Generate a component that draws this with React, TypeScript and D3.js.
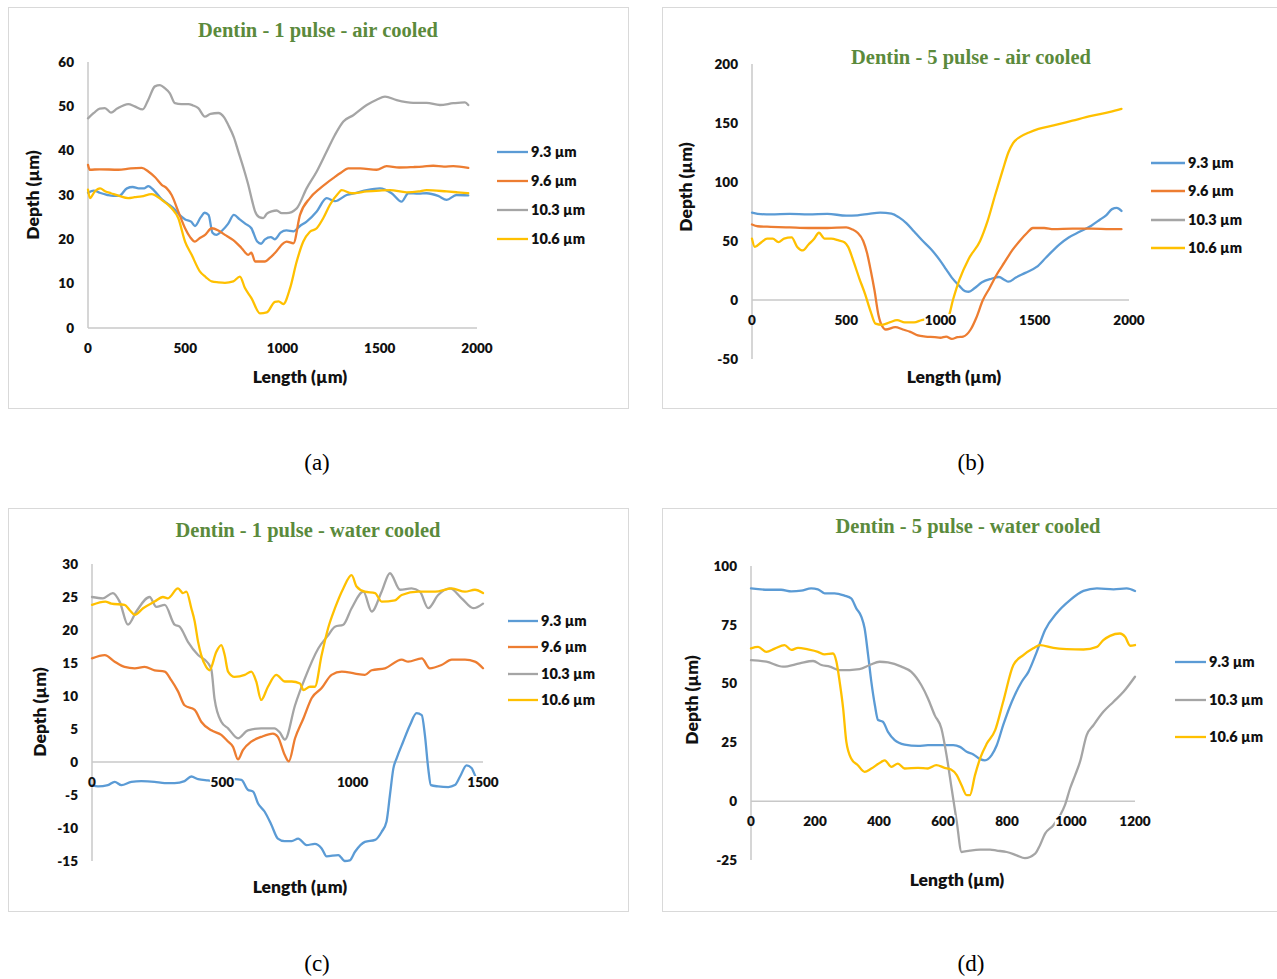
import React from 'react';
import * as d3 from 'd3';

type Pt = [number, number];

// ---------- labels ----------
const legendNames = ['9.3 µm', '9.6 µm', '10.3 µm', '10.6 µm'];
const legendNamesD = ['9.3 µm', '10.3 µm', '10.6 µm'];
const colorBlue = '#5b9bd5';
const colorOrange = '#ed7d31';
const colorGray = '#a5a5a5';
const colorYellow = '#ffc000';

const titleA = 'Dentin - 1 pulse - air cooled';
const titleB = 'Dentin - 5 pulse - air cooled';
const titleC = 'Dentin - 1 pulse - water cooled';
const titleD = 'Dentin - 5 pulse - water cooled';
const xTitle = 'Length (µm)';
const yTitle = 'Depth (µm)';

// ---------- ticks ----------
const ticksAx = [0, 500, 1000, 1500, 2000];
const ticksAy = [0, 10, 20, 30, 40, 50, 60];
const ticksBx = [0, 500, 1000, 1500, 2000];
const ticksBy = [-50, 0, 50, 100, 150, 200];
const ticksCx = [0, 500, 1000, 1500];
const ticksCy = [-15, -10, -5, 0, 5, 10, 15, 20, 25, 30];
const ticksDx = [0, 200, 400, 600, 800, 1000, 1200];
const ticksDy = [-25, 0, 25, 50, 75, 100];

// ---------- (a) 1 pulse air cooled ----------
const a93: Pt[] = [[0,30.5],[30,31],[60,30.5],[100,30],[130,29.8],[160,29.8],[200,31.5],[230,31.8],[260,31.5],[290,31.5],[310,32],[340,31],[380,29],[410,28],[440,27],[470,25.5],[500,24.5],[530,24],[550,23],[580,25],[600,26],[620,25.5],[640,21.5],[660,21],[690,22],[720,23.5],[750,25.5],[780,24.5],[810,23.5],[840,22.5],[870,19.5],[890,19],[910,20],[940,20.5],[960,20],[990,21.5],[1020,22],[1056,21.8],[1090,23],[1124,24],[1176,26.3],[1227,29.3],[1270,28.6],[1330,30],[1380,30.5],[1433,31.1],[1501,31.5],[1561,30.4],[1612,28.5],[1647,30.4],[1700,30.3],[1741,30.4],[1800,29.8],[1844,28.9],[1895,30],[1955,29.9]];
const a96: Pt[] = [[0,36.8],[9,35.7],[60,35.8],[156,35.7],[220,36],[276,36.1],[310,35.3],[345,34],[379,32.3],[405,31.5],[430,30],[464,26.3],[499,22.5],[525,20.5],[550,19.5],[575,20.3],[602,21],[636,22.5],[670,22],[704,21],[730,20.3],[756,19.5],[790,18],[824,16.5],[840,17],[859,15],[910,15],[935,15.8],[961,16.9],[1004,19.1],[1021,19.5],[1056,19.1],[1090,25.5],[1141,29.3],[1193,31.5],[1230,32.8],[1261,33.8],[1300,35],[1338,36],[1400,36],[1484,35.7],[1535,36.5],[1600,36.2],[1672,36.3],[1720,36.4],[1775,36.6],[1830,36.4],[1878,36.5],[1955,36.1]];
const a103: Pt[] = [[0,47.3],[30,48.5],[60,49.5],[87,49.6],[118,48.6],[150,49.5],[207,50.5],[240,50],[281,49.3],[310,51.5],[344,54.5],[370,54.8],[395,54.1],[420,53],[447,50.7],[480,50.5],[516,50.5],[540,50.2],[567,49.6],[601,47.7],[630,48.3],[670,48.5],[700,47.5],[721,45.8],[750,43],[773,39.8],[800,36],[824,32.3],[845,28.5],[859,26.3],[880,25],[901,24.8],[920,25.8],[944,26.3],[970,26.5],[996,25.9],[1021,25.9],[1073,27],[1124,31.5],[1176,35.3],[1227,39.8],[1270,43.6],[1313,46.6],[1364,48],[1433,50.3],[1484,51.5],[1527,52.2],[1587,51.4],[1672,50.8],[1741,50.8],[1809,50.3],[1878,50.7],[1938,50.9],[1955,50.3]];
const a106: Pt[] = [[0,31.2],[10,29.3],[35,30.8],[62,31.5],[90,30.8],[118,30.4],[160,29.8],[207,29.3],[240,29.5],[276,29.7],[327,30.2],[379,28.9],[430,27],[464,24.8],[499,19.5],[533,16.5],[576,12.7],[605,11.5],[636,10.5],[670,10.3],[704,10.2],[747,10.5],[781,11.6],[807,9],[841,6.7],[884,3.3],[919,3.5],[961,5.9],[980,6],[1004,5.4],[1039,9],[1073,15],[1107,19.5],[1141,21.7],[1176,22.5],[1210,24.8],[1244,27.8],[1287,30.4],[1304,31.1],[1356,30.4],[1433,30.8],[1500,31],[1553,31.1],[1638,30.6],[1700,30.8],[1741,31.1],[1844,30.8],[1900,30.6],[1955,30.4]];

// ---------- (b) 5 pulse air cooled ----------
const b93: Pt[] = [[0,74],[30,73],[100,72.5],[200,73],[300,72.5],[400,73],[500,71.5],[560,71.8],[620,73],[680,74],[740,73.2],[780,70],[820,65],[860,58],[900,51],[950,43],[1000,33],[1030,26],[1060,19],[1100,12],[1130,7.5],[1150,7],[1180,10],[1220,15],[1270,18],[1310,19.5],[1340,17],[1360,15.5],[1400,19],[1450,23],[1510,28],[1560,36],[1630,47],[1680,53],[1740,58],[1800,63],[1845,68],[1880,72],[1910,77],[1935,78],[1960,75.5]];
const b96: Pt[] = [[0,64],[30,62.5],[100,62],[200,61.5],[300,61],[400,61],[500,61.5],[530,60],[560,57],[590,50],[610,40],[630,25],[650,8],[670,-12],[690,-22],[710,-25],[760,-23],[800,-25],[840,-27],[880,-30],[920,-31],[970,-31.5],[1000,-32],[1030,-31],[1060,-33],[1090,-31.5],[1120,-31],[1160,-25],[1190,-15],[1225,0],[1260,10],[1300,22],[1340,32],[1380,42],[1420,50],[1460,57],[1490,61],[1550,61],[1600,60],[1700,60.5],[1800,60.5],[1900,60],[1960,60]];
const b103: Pt[] = [];
const b106: Pt[] = [[0,52],[15,45],[50,49],[80,52],[110,52],[140,49],[170,52],[210,53],[240,45],[270,42],[300,47],[330,52],[355,57],[385,52],[420,52],[460,50.5],[490,49],[510,45],[540,32],[570,18],[600,5],[630,-10],[655,-20],[690,-21],[730,-19],[770,-17],[810,-19],[860,-19],[900,-17],[940,-16],[980,-18],[1020,-17],[1040,-15],[1066,0],[1100,17],[1150,35],[1210,50],[1250,67],[1290,89],[1330,110],[1360,125],[1385,133],[1420,138],[1470,142],[1520,145],[1600,148],[1700,152],[1800,156],[1900,159.5],[1960,162]];

// ---------- (c) 1 pulse water cooled ----------
const c93: Pt[] = [[0,-3.5],[23,-3.7],[61,-3.5],[87,-3],[113,-3.5],[151,-3],[189,-2.9],[240,-3],[279,-3.2],[317,-3.2],[355,-2.9],[381,-2.2],[407,-2.6],[445,-2.8],[496,-3],[547,-2.6],[573,-2.7],[598,-4.2],[618,-4.5],[637,-6.3],[662,-7.5],[688,-9.5],[713,-11.6],[739,-12],[766,-12],[791,-11.6],[823,-12.6],[855,-12.4],[881,-13.1],[900,-14.3],[945,-14.1],[970,-15],[989,-14.9],[1009,-13.6],[1047,-12.1],[1086,-11.8],[1111,-10.6],[1130,-9],[1143,-5],[1156,-1],[1169,0.6],[1194,3.1],[1220,5.6],[1245,7.4],[1265,7.1],[1277,4.1],[1290,-1],[1300,-3.5],[1328,-3.7],[1367,-3.8],[1392,-3.5],[1412,-2.2],[1437,-0.5],[1456,-0.9],[1475,-2.5],[1490,-3]];
const c96: Pt[] = [[0,15.7],[49,16.2],[87,15.2],[125,14.4],[164,14.2],[202,14.4],[240,13.9],[279,13.7],[304,12.4],[330,10.7],[355,8.6],[394,7.9],[419,6.1],[458,4.8],[496,4.1],[522,3.1],[541,2.3],[560,0.4],[579,1.8],[611,3.1],[649,3.8],[694,4.3],[713,3.8],[739,1.1],[755,0.1],[779,3.6],[811,6.6],[843,9.7],[881,11.2],[919,13.2],[958,13.7],[1009,13.4],[1047,13.2],[1073,13.9],[1124,14.2],[1188,15.5],[1213,15.2],[1265,15.7],[1296,14.2],[1341,14.7],[1380,15.5],[1431,15.5],[1469,15.2],[1500,14.2]];
const c103: Pt[] = [[0,25],[42,24.8],[80,25.6],[106,24.3],[138,20.8],[170,22.8],[221,25],[247,23.5],[279,23.8],[317,20.8],[336,20.5],[368,18.2],[407,16.2],[445,15],[458,14],[470,9.6],[496,6.1],[522,5.1],[560,3.6],[598,4.8],[649,5.1],[700,5.1],[720,4.5],[740,3.4],[779,8.6],[817,12.7],[868,17.2],[906,19.2],[932,20.5],[964,20.8],[996,23.3],[1041,25.8],[1073,22.8],[1111,25.8],[1143,28.6],[1182,26.1],[1226,26.3],[1258,25.8],[1290,23.3],[1328,25.3],[1373,26.3],[1418,24.8],[1463,23.3],[1500,24]];
const c106: Pt[] = [[0,23.8],[51,24.3],[74,24],[125,23.8],[145,23],[164,22.3],[196,23.3],[240,24.3],[272,25],[291,24.8],[330,26.3],[349,25.6],[362,25.8],[381,23.3],[394,21.3],[407,18.2],[419,16.2],[438,14.4],[451,13.9],[477,16.7],[496,17.7],[509,16.2],[522,13.7],[547,12.9],[586,13.2],[611,13.7],[630,12.2],[649,9.4],[675,11.4],[707,13.2],[740,12.2],[766,12.2],[798,11.9],[811,10.9],[836,11.4],[855,11.4],[881,16.2],[906,20.3],[932,23.3],[964,26.3],[996,28.3],[1015,26.6],[1047,25.8],[1086,25.6],[1111,24.3],[1162,24.5],[1188,25.3],[1252,25.8],[1316,25.8],[1380,26.3],[1431,25.8],[1469,26.1],[1500,25.6]];

// ---------- (d) 5 pulse water cooled ----------
const d93: Pt[] = [[0,90.5],[53,89.9],[94,89.9],[126,89.2],[157,89.5],[188,90.5],[209,90.1],[230,88.4],[261,88.4],[292,87.4],[313,86.2],[329,82],[345,78.4],[355,73.5],[366,62.1],[376,50.8],[387,40.9],[397,34.5],[412,33.8],[428,29.5],[449,26],[480,24.1],[522,23.5],[553,23.8],[591,23.8],[632,23.8],[653,23.1],[674,21],[695,19.9],[716,17.9],[731,17.4],[752,19.6],[768,23.8],[788,32.3],[815,42.3],[846,50.8],[867,55],[893,63.5],[919,72.8],[955,79.9],[997,85.5],[1039,89.4],[1081,90.5],[1133,90.1],[1174,90.5],[1200,89.4]];
const d103: Pt[] = [[0,60],[48,59.3],[100,57.2],[152,58.6],[194,59.6],[220,57.9],[246,57.2],[277,55.7],[339,56.2],[371,57.9],[402,59.3],[428,59],[470,57.2],[501,55],[532,49.4],[553,43.7],[574,36.6],[595,30.9],[611,19.6],[627,5.4],[643,-8.8],[658,-21.6],[684,-21],[716,-20.6],[747,-20.6],[768,-21],[799,-21.6],[830,-23],[856,-24.2],[888,-22.3],[903,-18.7],[919,-13.8],[945,-10.2],[966,-6],[981,-1.7],[997,5.4],[1013,11.1],[1028,16.7],[1049,28.1],[1070,32.3],[1101,38],[1133,42.3],[1164,46.5],[1200,52.9]];
const d106: Pt[] = [[0,65],[22,65.6],[48,63.5],[74,64.9],[105,66.4],[126,64.3],[147,65.2],[178,64.5],[209,63.5],[230,62.4],[256,62.8],[267,59.3],[277,50.8],[288,39.4],[298,25.2],[313,18.2],[334,15.3],[355,12.5],[376,13.9],[407,16.7],[418,17.4],[439,14.6],[459,16],[480,13.9],[522,14.2],[553,13.9],[579,15.3],[605,14.2],[625,13.5],[643,11.1],[658,6.8],[674,2.6],[684,2.6],[700,11.1],[716,18.2],[737,24.5],[763,30.2],[788,42.3],[820,57.9],[851,62.1],[882,65],[903,66.4],[945,65.2],[986,64.7],[1039,64.5],[1081,65.6],[1101,68.5],[1122,70.3],[1153,71.3],[1169,69.9],[1185,66.1],[1200,66.4]];

interface Series { name: string; color: string; data: Pt[]; }
interface PanelSpec {
  box: [number, number, number, number];
  title: string; titlePos: [number, number];
  xDomain: [number, number]; xRange: [number, number];
  yDomain: [number, number]; yRange: [number, number];
  xTicks: number[]; yTicks: number[];
  series: Series[];
  legend: { names: string[]; colors: string[]; x0: number; x1: number; tx: number; ys: number[] };
  yTitlePos: [number, number]; xTitlePos: [number, number];
  caption: string; captionPos: [number, number];
}

const FONT = 'Lato, "Liberation Sans", Arial, sans-serif';
const SERIF = '"Liberation Serif", "Times New Roman", serif';

const panels: PanelSpec[] = [
  {
    box: [8, 7, 620, 401], title: titleA, titlePos: [318, 37],
    xDomain: [0, 2000], xRange: [88, 477], yDomain: [0, 60], yRange: [328, 62],
    xTicks: ticksAx, yTicks: ticksAy,
    series: [
      { name: legendNames[0], color: colorBlue, data: a93 },
      { name: legendNames[1], color: colorOrange, data: a96 },
      { name: legendNames[2], color: colorGray, data: a103 },
      { name: legendNames[3], color: colorYellow, data: a106 },
    ],
    legend: { names: legendNames, colors: [colorBlue, colorOrange, colorGray, colorYellow], x0: 497, x1: 528, tx: 531, ys: [152, 181, 210, 239] },
    yTitlePos: [33, 195], xTitlePos: [300, 377], caption: '(a)', captionPos: [317, 462],
  },
  {
    box: [662, 7, 625, 401], title: titleB, titlePos: [971, 64],
    xDomain: [0, 2000], xRange: [752, 1129], yDomain: [-50, 200], yRange: [359, 64],
    xTicks: ticksBx, yTicks: ticksBy,
    series: [
      { name: legendNames[0], color: colorBlue, data: b93 },
      { name: legendNames[1], color: colorOrange, data: b96 },
      { name: legendNames[2], color: colorGray, data: b103 },
      { name: legendNames[3], color: colorYellow, data: b106 },
    ],
    legend: { names: legendNames, colors: [colorBlue, colorOrange, colorGray, colorYellow], x0: 1151, x1: 1185, tx: 1188, ys: [163, 191, 220, 248] },
    yTitlePos: [686, 187], xTitlePos: [954, 377], caption: '(b)', captionPos: [971, 462],
  },
  {
    box: [8, 508, 620, 403], title: titleC, titlePos: [308, 537],
    xDomain: [0, 1500], xRange: [92, 483], yDomain: [-15, 30], yRange: [861, 564],
    xTicks: ticksCx, yTicks: ticksCy,
    series: [
      { name: legendNames[0], color: colorBlue, data: c93 },
      { name: legendNames[1], color: colorOrange, data: c96 },
      { name: legendNames[2], color: colorGray, data: c103 },
      { name: legendNames[3], color: colorYellow, data: c106 },
    ],
    legend: { names: legendNames, colors: [colorBlue, colorOrange, colorGray, colorYellow], x0: 508, x1: 538, tx: 541, ys: [621, 647, 674, 700] },
    yTitlePos: [40, 712], xTitlePos: [300, 887], caption: '(c)', captionPos: [317, 963],
  },
  {
    box: [662, 508, 625, 403], title: titleD, titlePos: [968, 533],
    xDomain: [0, 1200], xRange: [751, 1135], yDomain: [-25, 100], yRange: [860, 566],
    xTicks: ticksDx, yTicks: ticksDy,
    series: [
      { name: legendNamesD[0], color: colorBlue, data: d93 },
      { name: legendNamesD[1], color: colorGray, data: d103 },
      { name: legendNamesD[2], color: colorYellow, data: d106 },
    ],
    legend: { names: legendNamesD, colors: [colorBlue, colorGray, colorYellow], x0: 1175, x1: 1206, tx: 1209, ys: [662, 700, 737] },
    yTitlePos: [692, 700], xTitlePos: [957, 880], caption: '(d)', captionPos: [971, 963],
  },
];

function Panel({ p }: { p: PanelSpec }) {
  const x = d3.scaleLinear().domain(p.xDomain).range(p.xRange);
  const y = d3.scaleLinear().domain(p.yDomain).range(p.yRange);
  const line = d3.line<Pt>().x((d) => x(d[0])).y((d) => y(d[1])).curve(d3.curveMonotoneX);
  const y0 = y(0);
  const axisX = x(0);
  const [bx, by, bw, bh] = p.box;
  return (
    <g>
      <rect x={bx + 0.5} y={by + 0.5} width={bw} height={bh} fill="#fff" stroke="#d9d9d9" strokeWidth={1} />
      <text x={p.titlePos[0]} y={p.titlePos[1]} textAnchor="middle" fontFamily={SERIF} fontWeight={700} fontSize={20.5} fill="#5b8a3c">{p.title}</text>
      {/* axes */}
      <line x1={axisX} x2={axisX} y1={p.yRange[1]} y2={p.yRange[0]} stroke="#c8c8c8" strokeWidth={1.5} />
      <line x1={p.xRange[0]} x2={p.xRange[1]} y1={y0} y2={y0} stroke="#c8c8c8" strokeWidth={1.5} />
      {/* series */}
      {p.series.filter((s) => s.data.length > 0).map((s) => (
        <path key={s.name} d={line(s.data) || ''} fill="none" stroke={s.color} strokeWidth={2.3} strokeLinejoin="round" strokeLinecap="round" />
      ))}
      {/* x tick labels */}
      {p.xTicks.map((t) => {
        const label = String(t);
        const w = label.length * 7.6 + 2;
        return (
          <g key={'x' + t}>
            {t !== 0 && <rect x={x(t) - w / 2} y={y0 + 14} width={w} height={13} fill="#fff" />}
            <text x={x(t)} y={y0 + 25} textAnchor="middle" fontFamily={FONT} fontWeight={800} fontSize={13.5} fill="#111">{label}</text>
          </g>
        );
      })}
      {/* y tick labels */}
      {p.yTicks.map((t) => (
        <text key={'y' + t} x={axisX - 14} y={y(t) + 4.7} textAnchor="end" fontFamily={FONT} fontWeight={800} fontSize={13.5} fill="#111">{String(t)}</text>
      ))}
      {/* axis titles */}
      <text transform={`translate(${p.yTitlePos[0]},${p.yTitlePos[1]}) rotate(-90)`} textAnchor="middle" dy="0.35em" fontFamily={FONT} fontWeight={800} fontSize={17.5} fill="#111">{yTitle}</text>
      <text x={p.xTitlePos[0]} y={p.xTitlePos[1]} textAnchor="middle" dy="0.35em" fontFamily={FONT} fontWeight={800} fontSize={17.5} fill="#111">{xTitle}</text>
      {/* legend */}
      {p.legend.names.map((n, i) => (
        <g key={'l' + n}>
          <line x1={p.legend.x0} x2={p.legend.x1} y1={p.legend.ys[i]} y2={p.legend.ys[i]} stroke={p.legend.colors[i]} strokeWidth={2.3} />
          <text x={p.legend.tx} y={p.legend.ys[i]} dy="0.35em" fontFamily={FONT} fontWeight={800} fontSize={14.5} fill="#111">{n}</text>
        </g>
      ))}
      <text x={p.captionPos[0]} y={p.captionPos[1]} textAnchor="middle" dy="0.35em" fontFamily={SERIF} fontSize={23} fill="#000">{p.caption}</text>
    </g>
  );
}

export default function App() {
  return (
    <svg width={1277} height={979} style={{ position: 'absolute', left: 0, top: 0, background: '#fff' }}>
      <rect x={0} y={0} width={1277} height={979} fill="#fff" />
      {panels.map((p, i) => <Panel key={i} p={p} />)}
    </svg>
  );
}
